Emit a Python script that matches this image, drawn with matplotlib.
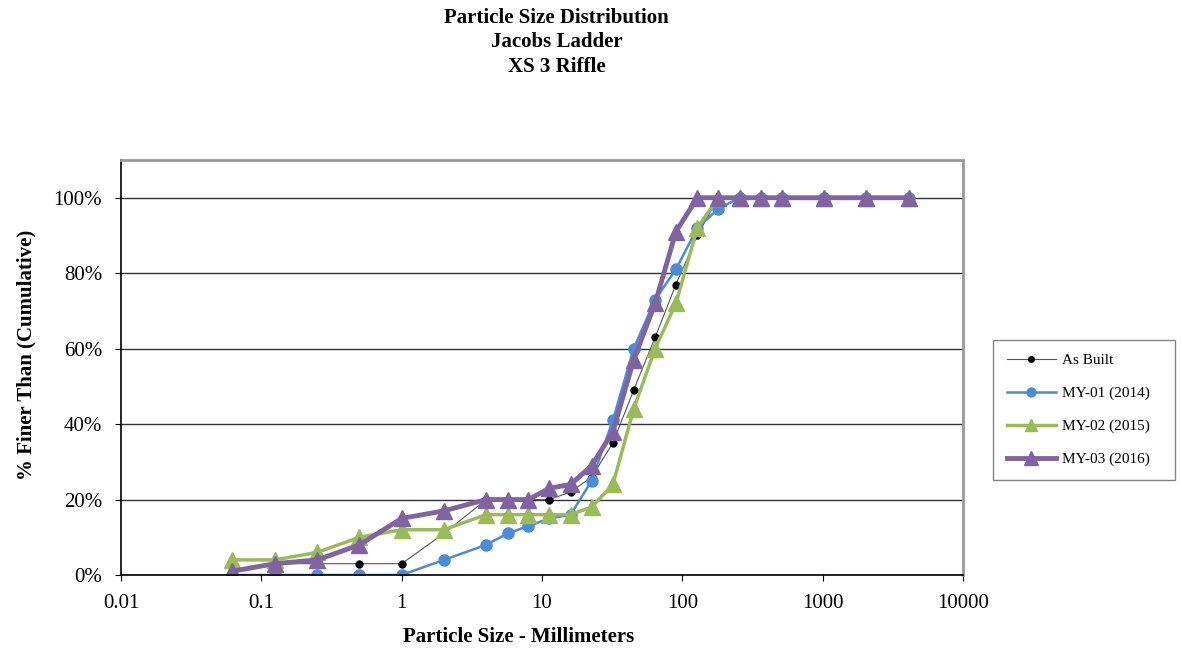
import matplotlib.pyplot as plt
from matplotlib.ticker import FixedLocator, FuncFormatter, NullLocator

plt.rcParams["font.family"] = ["Liberation Serif", "DejaVu Serif"]

# sieve sizes in mm
sizes = [0.062, 0.125, 0.25, 0.5, 1, 2, 4, 5.7, 8, 11.3, 16, 22.6, 32, 45,
         64, 90, 128, 180, 256, 362, 512, 1024, 2048, 4096]

# cumulative percent finer
as_built = [1, 3, 3, 3, 3, 11, 20, 20, 20, 20, 22, 26, 35, 49,
            63, 77, 90, 100, 100, 100, 100, 100, 100, 100]
my01 = [0, 0, 0, 0, 0, 4, 8, 11, 13, 15, 16, 25, 41, 60,
        73, 81, 92, 97, 100, 100, 100, 100, 100, 100]
my02 = [4, 4, 6, 10, 12, 12, 16, 16, 16, 16, 16, 18, 24, 44,
        60, 72, 92, 100, 100, 100, 100, 100, 100, 100]
my03 = [1, 3, 4, 8, 15, 17, 20, 20, 20, 23, 24, 29, 38, 57,
        72, 91, 100, 100, 100, 100, 100, 100, 100, 100]

xticks = [0.01, 0.1, 1, 10, 100, 1000, 10000]
xlabels = ["0.01", "0.1", "1", "10", "100", "1000", "10000"]

fig = plt.figure(figsize=(11.82, 6.52), dpi=100)
ax = fig.add_axes([0.1024, 0.1181, 0.7123, 0.6365])

ax.plot(sizes, [v / 100 for v in as_built], color="#555555", lw=0.8,
        marker="o", ms=5, mfc="black", mec="black", label="As Built")
ax.plot(sizes, [v / 100 for v in my01], color="#4A8CD6", lw=1.8,
        marker="o", ms=8, label="MY-01 (2014)")
ax.plot(sizes, [v / 100 for v in my02], color="#9BBB59", lw=2.5,
        marker="^", ms=11, label="MY-02 (2015)")
ax.plot(sizes, [v / 100 for v in my03], color="#8064A2", lw=3.5,
        marker="^", ms=12, label="MY-03 (2016)")

ax.set_xscale("log")
ax.set_xlim(0.01, 10000)
ax.set_ylim(0, 1.1)
ax.xaxis.set_major_locator(FixedLocator(xticks))
ax.xaxis.set_minor_locator(NullLocator())
ax.set_xticklabels(xlabels)
ax.set_yticks([0, 0.2, 0.4, 0.6, 0.8, 1.0])
ax.yaxis.set_major_formatter(FuncFormatter(lambda v, p: f"{v * 100:.0f}%"))
ax.tick_params(labelsize=15, direction="out", length=4.5, color="black")
ax.tick_params(axis="y", pad=9)
ax.tick_params(axis="x", pad=9)
ax.yaxis.grid(True, color="#333333", lw=1)
ax.set_axisbelow(True)

for side in ["top", "right"]:
    ax.spines[side].set_color("#999999")
    ax.spines[side].set_linewidth(2)
for side in ["left", "bottom"]:
    ax.spines[side].set_color("black")
    ax.spines[side].set_linewidth(1.2)

fig.text(0.439, 0.0225, "Particle Size - Millimeters", ha="center", va="center",
         fontsize=15, fontweight="bold")
fig.text(0.022, 0.455, "% Finer Than (Cumulative)", ha="center", va="center",
         rotation=90, fontsize=15, fontweight="bold")

fig.text(0.471, 0.988, "Particle Size Distribution\nJacobs Ladder\nXS 3 Riffle",
         ha="center", va="top", fontsize=15, fontweight="bold", linespacing=1.3)

leg = fig.legend(loc="upper left", bbox_to_anchor=(0.840, 0.267, 0.154, 0.212),
                 mode="expand", borderaxespad=0, fontsize=11, frameon=True,
                 fancybox=False, edgecolor="#666666", handlelength=3.2,
                 handletextpad=0.4, labelspacing=1.25, borderpad=0.9,
                 markerscale=0.8)
leg.get_frame().set_linewidth(1)

plt.savefig("out.png")
